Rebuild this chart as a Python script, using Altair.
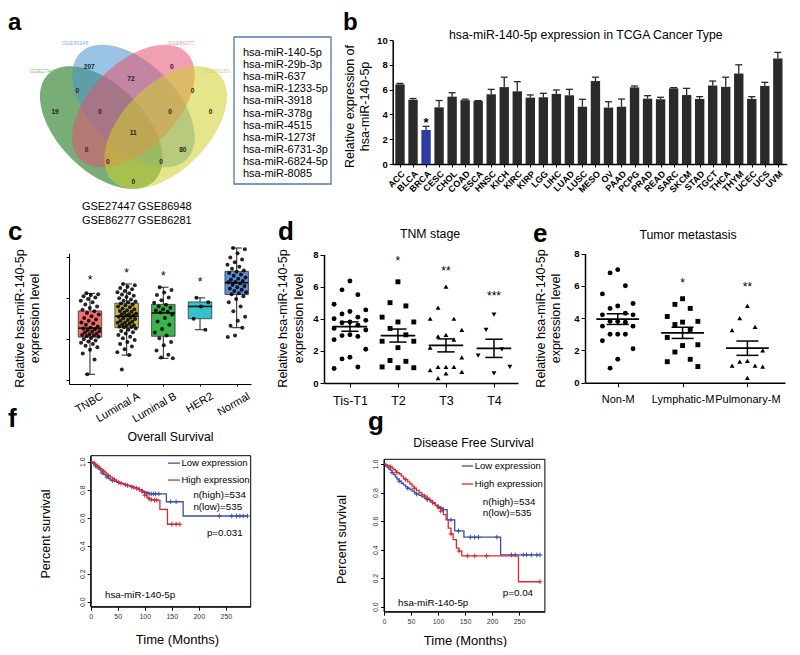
import json
import altair as alt
import pandas as pd

W, H = 784, 639
FONT = "Liberation Sans"

# ======================= DATA =======================
# a  Venn diagram (diagram units 0-1)
venn_sets = ["GSE27447", "GSE86948", "GSE86277", "GSE86281"]
venn_u = [0.35, 0.50, 0.50, 0.65]
venn_v = [0.47, 0.57, 0.57, 0.47]
venn_a = [0.35, 0.35, 0.35, 0.35]
venn_b = [0.20, 0.20, 0.20, 0.20]
venn_rot = [45, 45, 135, 135]
venn_label_u = [0.081, 0.228, 0.723, 0.886]
venn_label_v = [0.733, 0.863, 0.863, 0.733]
venn_counts = [207, 72, 0, 0, 0, 19, 0, 11, 0, 0, 0, 80, 0, 0, 0]
venn_count_u = [0.294, 0.488, 0.678, 0.239, 0.775, 0.135, 0.344, 0.499, 0.670, 0.859, 0.282, 0.729, 0.380, 0.628, 0.499]
venn_count_v = [0.753, 0.696, 0.753, 0.641, 0.641, 0.544, 0.544, 0.443, 0.544, 0.544, 0.366, 0.366, 0.308, 0.308, 0.215]
common_mirs = ["hsa-miR-140-5p", "hsa-miR-29b-3p", "hsa-miR-637", "hsa-miR-1233-5p", "hsa-miR-3918",
               "hsa-miR-378g", "hsa-miR-4515", "hsa-miR-1273f", "hsa-miR-6731-3p", "hsa-miR-6824-5p",
               "hsa-miR-8085"]

# b  TCGA bar chart
tcga_types = ["ACC", "BLCA", "BRCA", "CESC", "CHOL", "COAD", "ESCA", "HNSC", "KICH", "KIRC", "KIRP", "LGG",
              "LIHC", "LUAD", "LUSC", "MESO", "OV", "PAAD", "PCPG", "PRAD", "READ", "SARC", "SKCM", "STAD",
              "TGCT", "THCA", "THYM", "UCEC", "UCS", "UVM"]
tcga_mean = [6.42, 5.18, 2.74, 4.57, 5.43, 5.15, 5.08, 5.62, 6.20, 5.86, 5.35, 5.38, 5.65, 5.54, 4.62,
             6.69, 4.55, 4.62, 6.18, 5.27, 5.22, 6.10, 5.56, 5.24, 6.33, 6.22, 7.30, 5.25, 6.29, 8.50]
tcga_sem = [0.08, 0.10, 0.30, 0.55, 0.32, 0.08, 0.03, 0.40, 0.80, 0.78, 0.22, 0.32, 0.32, 0.48, 0.60,
            0.31, 0.47, 0.62, 0.11, 0.24, 0.16, 0.06, 0.54, 0.19, 0.36, 0.78, 0.70, 0.18, 0.30, 0.50]

# c  subtype box plots (relative units)
subtypes = ["TNBC", "Luminal A", "Luminal B", "HER2", "Normal"]
box_lo = [0.14, 0.61, 0.53, 1.23, 1.28]
box_q1 = [1.05, 1.28, 1.07, 1.50, 2.09]
box_med = [1.27, 1.56, 1.64, 1.80, 2.38]
box_q3 = [1.69, 1.88, 1.85, 1.91, 2.66]
box_hi = [2.12, 2.35, 2.27, 2.01, 3.23]
subtype_star_y = [2.51, 2.69, 2.63, 2.46]
pts_tnbc = [2.12, 2.10, 2.08, 2.05, 2.02, 1.98, 1.94, 1.90, 1.85, 1.80, 1.76, 1.72, 1.68, 1.64, 1.60, 1.56,
            1.52, 1.48, 1.45, 1.41, 1.38, 1.35, 1.31, 1.28, 1.26, 1.24, 1.22, 1.20, 1.18, 1.16, 1.14, 1.12,
            1.10, 1.09, 1.07, 1.06, 1.03, 1.00, 0.97, 0.94, 0.91, 0.88, 0.84, 0.80, 0.74, 0.65, 0.50, 0.14]
pts_luma = [2.35, 2.32, 2.28, 2.25, 2.22, 2.18, 2.15, 2.12, 2.09, 2.06, 2.03, 2.00, 1.97, 1.94, 1.92, 1.90,
            1.87, 1.85, 1.83, 1.80, 1.78, 1.75, 1.73, 1.71, 1.69, 1.67, 1.65, 1.63, 1.61, 1.60, 1.58, 1.57,
            1.55, 1.53, 1.51, 1.49, 1.47, 1.45, 1.43, 1.41, 1.40, 1.38, 1.36, 1.34, 1.33, 1.31, 1.30, 1.29,
            1.26, 1.23, 1.20, 1.17, 1.14, 1.10, 1.06, 1.02, 0.98, 0.93, 0.88, 0.82, 0.75, 0.68, 0.61, 0.26]
pts_lumb = [2.27, 2.20, 2.14, 2.08, 2.02, 1.95, 1.89, 1.84, 1.80, 1.77, 1.73, 1.70, 1.67, 1.65, 1.60, 1.52,
            1.43, 1.35, 1.25, 1.16, 1.09, 1.02, 0.93, 0.85, 0.72, 0.62, 0.55, 0.53]
pts_her2 = [2.01, 1.90, 1.80, 1.50, 1.23]
pts_normal = [3.23, 3.20, 3.10, 3.00, 2.95, 2.88, 2.82, 2.77, 2.72, 2.68, 2.65, 2.62, 2.58, 2.55, 2.51, 2.48,
              2.45, 2.42, 2.40, 2.39, 2.36, 2.33, 2.30, 2.27, 2.24, 2.21, 2.18, 2.15, 2.12, 2.10, 2.05, 1.98,
              1.90, 1.80, 1.68, 1.55, 1.45, 1.33, 1.28, 1.09, 1.05]

# d  TNM stage
tnm_groups = ["Tis-T1", "T2", "T3", "T4"]
tnm_tis_t1 = [6.35, 5.8, 5.5, 4.9, 4.55, 4.45, 4.3, 4.1, 4.0, 3.9, 3.8, 3.75, 3.6, 3.4, 3.3, 3.0, 2.95, 2.9,
              2.7, 2.1, 1.6, 1.5, 1.0, 0.9]
tnm_t2 = [6.3, 5.0, 4.8, 4.1, 3.8, 3.8, 3.4, 3.0, 2.6, 2.6, 2.2, 1.4, 1.35, 1.0, 0.95, 0.95]
tnm_t3 = [6.0, 4.7, 4.0, 4.0, 3.3, 3.0, 2.9, 2.7, 2.2, 1.6, 1.0, 1.0, 1.0, 0.8, 0.7, 0.6, 0.3]
tnm_t4 = [4.25, 3.3, 2.1, 1.7, 1.0, 0.6]
tnm_stars = ["*", "**", "***"]
tnm_star_idx = [1, 2, 3]
tnm_star_y = [7.78, 7.16, 5.60]

# e  metastasis
met_groups = ["Non-M", "Lymphatic-M", "Pulmonary-M"]
met_non = [7.0, 6.8, 6.0, 5.5, 4.9, 4.75, 4.6, 4.3, 4.2, 4.2, 3.8, 3.8, 3.75, 3.5, 3.5, 3.0, 3.0, 3.0, 2.6,
           2.1, 1.45, 0.9]
met_lymph = [5.2, 4.85, 4.6, 4.1, 3.8, 3.75, 3.6, 3.3, 2.8, 2.35, 2.3, 1.9, 1.45, 1.3, 1.0]
met_pulm = [4.75, 4.0, 3.45, 3.25, 2.0, 1.35, 1.3, 1.05, 1.05, 1.0, 0.3]
met_stars = ["*", "**"]
met_star_idx = [1, 2]
met_star_y = [6.38, 6.13]

# f  overall survival (months, survival)
os_low_t = [0, 3, 6, 9, 12, 15, 18, 21, 24, 27, 30, 33, 36, 40, 44, 48, 52, 56, 60, 64, 68, 72, 76, 80, 85,
            90, 95, 100, 104, 108, 112, 116, 120, 126, 140, 148, 158, 171, 238, 261, 270, 276, 282, 290]
os_low_s = [1.0, 0.99, 0.98, 0.97, 0.955, 0.945, 0.935, 0.92, 0.91, 0.90, 0.89, 0.88, 0.87, 0.865, 0.86,
            0.855, 0.85, 0.845, 0.84, 0.835, 0.83, 0.825, 0.82, 0.815, 0.81, 0.80, 0.79, 0.78, 0.775, 0.772,
            0.77, 0.77, 0.77, 0.77, 0.714, 0.714, 0.714, 0.612, 0.612, 0.612, 0.612, 0.612, 0.612, 0.612]
os_low_cens = [9, 21, 30, 40, 52, 64, 76, 85, 95, 104, 108, 112, 116, 120, 126, 148, 158, 238, 261, 270, 276,
               282, 290]
os_high_t = [0, 3, 6, 9, 12, 15, 18, 21, 24, 27, 30, 33, 36, 40, 44, 48, 52, 56, 60, 64, 68, 72, 76, 80, 85,
             90, 95, 100, 104, 108, 112, 118, 122, 128, 142, 150, 158, 165]
os_high_s = [1.0, 0.995, 0.99, 0.98, 0.97, 0.96, 0.95, 0.94, 0.93, 0.92, 0.91, 0.90, 0.89, 0.88, 0.87, 0.86,
             0.85, 0.845, 0.84, 0.835, 0.83, 0.825, 0.82, 0.815, 0.81, 0.80, 0.78, 0.76, 0.745, 0.735, 0.728,
             0.725, 0.725, 0.66, 0.553, 0.553, 0.553, 0.553]
os_high_cens = [6, 15, 24, 33, 44, 56, 68, 80, 90, 100, 108, 112, 118, 122, 150, 158, 165]

# g  disease free survival
dfs_low_t = [0, 3, 6, 9, 12, 15, 18, 21, 24, 28, 32, 36, 40, 44, 48, 52, 56, 60, 65, 70, 75, 80, 85, 90, 95,
             100, 105, 110, 117, 124, 131, 138, 148, 160, 168, 175, 209, 216, 236, 243, 258, 264, 273, 283, 289]
dfs_low_s = [1.0, 0.985, 0.975, 0.965, 0.955, 0.94, 0.925, 0.91, 0.895, 0.88, 0.865, 0.854, 0.84, 0.83, 0.82,
             0.81, 0.80, 0.79, 0.78, 0.77, 0.76, 0.75, 0.74, 0.725, 0.71, 0.70, 0.69, 0.68, 0.608, 0.608,
             0.531, 0.531, 0.487, 0.487, 0.487, 0.487, 0.487, 0.363, 0.363, 0.363, 0.363, 0.363, 0.363,
             0.363, 0.363]
dfs_low_cens = [15, 28, 44, 60, 80, 100, 105, 110, 124, 138, 160, 168, 175, 209, 236, 243, 258, 264, 273, 283,
                289]
dfs_high_t = [0, 3, 6, 9, 12, 15, 18, 21, 24, 28, 32, 36, 40, 44, 48, 52, 56, 60, 65, 70, 75, 80, 85, 90, 95,
              100, 105, 110, 115, 119, 124, 128, 134, 139, 144, 155, 168, 190, 220, 249, 289]
dfs_high_s = [1.0, 0.995, 0.99, 0.985, 0.98, 0.97, 0.96, 0.95, 0.94, 0.93, 0.915, 0.90, 0.89, 0.875, 0.86,
              0.845, 0.83, 0.815, 0.80, 0.785, 0.775, 0.76, 0.745, 0.73, 0.71, 0.69, 0.67, 0.645, 0.61, 0.55,
              0.51, 0.47, 0.41, 0.39, 0.356, 0.356, 0.356, 0.356, 0.356, 0.175, 0.175]
dfs_high_cens = [12, 24, 40, 56, 75, 90, 105, 124, 139, 155, 168, 190, 289]

# ======================= STYLE =======================
venn_colors = ["#0A6A0A", "#4994CE", "#E4526F", "#D0D02A"]
venn_opacity = 0.55
venn_label_colors = ["#7DBF7D", "#8DB8E0", "#EFA0A6", "#D4D47A"]
box_colors = ["#F2716D", "#CDB64B", "#3DB34B", "#33C3CC", "#5F8FD4"]
LOW_C, HIGH_C = "#3C4FA8", "#E0282C"
BAR_C, BAR_HI = "#2A2A2A", "#2E3BA3"

AX = dict(grid=False, domainColor="black", tickColor="black", labelColor="black", titleColor="black",
          labelFont=FONT, titleFont=FONT, titleFontWeight="normal", labelFlush=False, labelOverlap=False)


def S(domain, rng):
    return alt.Scale(domain=domain, range=rng, nice=False, zero=False)


def bottom_axis(ypix, **kw):
    d = dict(AX)
    d.update(orient="bottom", offset=ypix - H)
    d.update(kw)
    return alt.Axis(**d)


def left_axis(xpix, **kw):
    d = dict(AX)
    d.update(orient="left", offset=-xpix)
    d.update(kw)
    return alt.Axis(**d)


ONE = alt.Data(values=[{"k": 0}])


def note(text, x, y, size=12.0, weight="normal", align="center", baseline="middle", color="black"):
    return alt.Chart(ONE).mark_text(text=text, fontSize=size, fontWeight=weight, align=align,
                                    baseline=baseline, color=color, font=FONT).encode(
        x=alt.value(x), y=alt.value(y))


layers = []

# ======================= PANEL a =======================
vx, vy = S([0, 1], [18, 233]), S([0, 1], [220.6, 5.6])
PX = 215.0
ell = pd.DataFrame({"u": venn_u, "v": venn_v, "rot": venn_rot})
ell["shape"] = ["M-1,0A1,{r:.4f},0,1,0,1,0A1,{r:.4f},0,1,0,-1,0Z".format(r=b / a) for a, b in zip(venn_a, venn_b)]
ell["size"] = [(2 * a * PX) ** 2 for a in venn_a]
ell["col"] = venn_colors
layers.append(alt.Chart(ell).mark_point(filled=True, opacity=venn_opacity, strokeWidth=0).encode(
    x=alt.X("u:Q", scale=vx, axis=None), y=alt.Y("v:Q", scale=vy, axis=None),
    shape=alt.Shape("shape:N", scale=None), size=alt.Size("size:Q", scale=None),
    angle=alt.Angle("rot:Q", scale=None), color=alt.Color("col:N", scale=None)))

cnt = pd.DataFrame({"u": venn_count_u, "v": venn_count_v, "n": [str(c) for c in venn_counts]})
layers.append(alt.Chart(cnt).mark_text(fontSize=6.5, fontWeight="bold", font=FONT, color="#222").encode(
    x=alt.X("u:Q", scale=vx, axis=None), y=alt.Y("v:Q", scale=vy, axis=None), text="n:N"))

sl = pd.DataFrame({"u": venn_label_u, "v": venn_label_v, "t": venn_sets, "col": venn_label_colors})
layers.append(alt.Chart(sl).mark_text(fontSize=5.5, font=FONT).encode(
    x=alt.X("u:Q", scale=vx, axis=None), y=alt.Y("v:Q", scale=vy, axis=None), text="t:N",
    color=alt.Color("col:N", scale=None)))

layers.append(alt.Chart(ONE).mark_rect(fillOpacity=0, stroke="#5577AA", strokeWidth=1.3).encode(
    x=alt.value(226), x2=alt.value(323), y=alt.value(29), y2=alt.value(176)))
mirs = pd.DataFrame({"m": common_mirs, "i": list(range(len(common_mirs)))})
layers.append(alt.Chart(mirs).mark_text(fontSize=11, font=FONT, align="left", color="black").encode(
    x=alt.value(235), y=alt.Y("i:Q", scale=S([0, 10], [45, 166]), axis=None), text="m:N"))

for t, x, y in [("GSE27447", 100.8, 199), ("GSE86948", 156.7, 199), ("GSE86277", 100.8, 213),
                ("GSE86281", 156.7, 213)]:
    layers.append(note(t, x, y, 11))

# ======================= PANEL b =======================
bxs, bys = S([-0.56, 29.68], [384.7, 778.7]), S([0, 10], [156, 32])
bdf = pd.DataFrame({"cat": tcga_types, "val": tcga_mean, "err": tcga_sem, "i": list(range(len(tcga_types)))})
b_xaxis = bottom_axis(156, values=list(range(len(tcga_types))), labelExpr=json.dumps(tcga_types) + "[datum.value]",
                      labelAngle=-45, labelAlign="right", labelBaseline="top", labelFontSize=9,
                      labelFontWeight="bold", tickSize=3, labelPadding=2, domainWidth=1.5, title=None)
b_yaxis = left_axis(384.7, values=[0, 2, 4, 6, 8, 10], labelFontSize=9.5, labelFontWeight="bold", tickSize=3.5,
                    labelPadding=2, domainWidth=1.5, title=["Relative expression of", "hsa-miR-140-5p"],
                    titleFontSize=12.5, titleLineHeight=15, titleX=-36.7, titleY=98)
bbase = alt.Chart(bdf).transform_calculate(x0="datum.i - 0.36", x1="datum.i + 0.36", c0="datum.i - 0.27",
                                           c1="datum.i + 0.27", top="datum.val + datum.err")
layers.append(bbase.mark_rule(strokeWidth=1.3, color=BAR_C).encode(
    x=alt.X("i:Q", scale=bxs, axis=None), y=alt.Y("val:Q", scale=bys, axis=None), y2="top:Q"))
layers.append(bbase.mark_rule(strokeWidth=1.3, color=BAR_C).encode(
    x=alt.X("c0:Q", scale=bxs, axis=None), x2="c1:Q", y=alt.Y("top:Q", scale=bys, axis=None)))
layers.append(bbase.mark_bar().encode(
    x=alt.X("x0:Q", scale=bxs, axis=b_xaxis), x2="x1:Q",
    y=alt.Y("val:Q", scale=bys, axis=b_yaxis), y2=alt.Y2Datum(0),
    color=alt.condition(alt.datum.cat == "BRCA", alt.value(BAR_HI), alt.value(BAR_C))))
layers.append(bbase.transform_filter(alt.datum.cat == "BRCA").mark_text(
    text="*", fontSize=13, fontWeight="bold", baseline="middle", dy=-3, font=FONT, color="black").encode(
    x=alt.X("i:Q", scale=bxs, axis=None), y=alt.Y("top:Q", scale=bys, axis=None)))
layers.append(note("hsa-miR-140-5p expression in TCGA Cancer Type", 577.8, 27, 12.3))

# ======================= PANEL c =======================
cxs, cys = S([-0.572, 4.39], [61, 243]), S([-0.097, 3.1], [376, 245.3])
c_xaxis = bottom_axis(376, values=list(range(5)), labelExpr=json.dumps(subtypes) + "[datum.value]",
                      labelAngle=-30, labelAlign="right", labelBaseline="top", labelOffset=9, labelPadding=4,
                      labelFontSize=11, tickSize=2, domainWidth=1, title=None)
c_yaxis = left_axis(61, values=[0, 1, 2, 3], labels=False, tickSize=3, domainWidth=1,
                    title=["Relative hsa-miR-140-5p", "expression level"], titleFontSize=12.5,
                    titleLineHeight=14.5, titleX=-42.3, titleY=310)
cb = pd.DataFrame({"i": list(range(5)), "sub": subtypes, "lo": box_lo, "q1": box_q1, "med": box_med,
                   "q3": box_q3, "hi": box_hi})
cbase = alt.Chart(cb).transform_calculate(b0="datum.i - 0.32", b1="datum.i + 0.32", w0="datum.i - 0.14",
                                          w1="datum.i + 0.14")
for lo, hi in [("lo", "q1"), ("q3", "hi")]:
    layers.append(cbase.mark_rule(color="#222", strokeWidth=1).encode(
        x=alt.X("i:Q", scale=cxs, axis=None), y=alt.Y(lo + ":Q", scale=cys, axis=None), y2=hi + ":Q"))
for f in ["lo", "hi"]:
    layers.append(cbase.mark_rule(color="#222", strokeWidth=1).encode(
        x=alt.X("w0:Q", scale=cxs, axis=None), x2="w1:Q", y=alt.Y(f + ":Q", scale=cys, axis=None)))
layers.append(cbase.mark_rect(stroke="#333", strokeWidth=0.8).encode(
    x=alt.X("b0:Q", scale=cxs, axis=c_xaxis), x2="b1:Q",
    y=alt.Y("q1:Q", scale=cys, axis=c_yaxis), y2="q3:Q",
    color=alt.Color("sub:N", scale=alt.Scale(domain=subtypes, range=box_colors), legend=None)))
layers.append(cbase.mark_rule(color="#111", strokeWidth=1.6).encode(
    x=alt.X("b0:Q", scale=cxs, axis=None), x2="b1:Q", y=alt.Y("med:Q", scale=cys, axis=None)))
rows = []
for gi, vals in enumerate([pts_tnbc, pts_luma, pts_lumb, pts_her2, pts_normal]):
    for k, v in enumerate(vals):
        rows.append({"gi": gi, "k": k, "val": v})
cpts = pd.DataFrame(rows)
layers.append(alt.Chart(cpts).transform_calculate(
    xj="datum.gi + ((datum.k * 0.618034 + 0.31) % 1 - 0.5) * 0.52").mark_circle(
    size=16, color="black", opacity=0.85).encode(
    x=alt.X("xj:Q", scale=cxs, axis=None), y=alt.Y("val:Q", scale=cys, axis=None)))
cst = pd.DataFrame({"gi": [0, 1, 2, 3], "y": subtype_star_y})
layers.append(alt.Chart(cst).mark_text(text="*", fontSize=12, baseline="middle", dy=3, font=FONT,
                                       color="black").encode(
    x=alt.X("gi:Q", scale=cxs, axis=None), y=alt.Y("y:Q", scale=cys, axis=None)))


# ======================= PANELS d / e =======================
def scatter_panel(groups, lists, shapes, xs, ys, xaxis, yaxis, step, half, cap, stars, star_idx, star_y):
    rows = []
    for gi, vals in enumerate(lists):
        for k, v in enumerate(vals):
            rows.append({"gi": gi, "g": groups[gi], "k": k, "val": v})
    df = pd.DataFrame(rows)
    out = []
    out.append(alt.Chart(df).transform_calculate(
        xj="datum.gi + [0, -1, 1, -2, 2][datum.k % 5] * " + str(step)).mark_point(
        filled=True, size=24, color="black", opacity=1).encode(
        x=alt.X("xj:Q", scale=xs, axis=xaxis), y=alt.Y("val:Q", scale=ys, axis=yaxis),
        shape=alt.Shape("g:N", scale=alt.Scale(domain=groups, range=shapes), legend=None)))
    agg = alt.Chart(df).transform_aggregate(m="mean(val)", se="stderr(val)", groupby=["gi"]).transform_calculate(
        m0="datum.gi - " + str(half), m1="datum.gi + " + str(half), s0="datum.gi - " + str(cap),
        s1="datum.gi + " + str(cap), lo="datum.m - datum.se", hi="datum.m + datum.se")
    out.append(agg.mark_rule(color="black", strokeWidth=1.8).encode(
        x=alt.X("m0:Q", scale=xs, axis=None), x2="m1:Q", y=alt.Y("m:Q", scale=ys, axis=None)))
    out.append(agg.mark_rule(color="black", strokeWidth=1.5).encode(
        x=alt.X("gi:Q", scale=xs, axis=None), y=alt.Y("lo:Q", scale=ys, axis=None), y2="hi:Q"))
    for f in ["lo", "hi"]:
        out.append(agg.mark_rule(color="black", strokeWidth=1.5).encode(
            x=alt.X("s0:Q", scale=xs, axis=None), x2="s1:Q", y=alt.Y(f + ":Q", scale=ys, axis=None)))
    sdf = pd.DataFrame({"gi": star_idx, "y": star_y, "s": stars})
    out.append(alt.Chart(sdf).mark_text(fontSize=12, baseline="middle", dy=3, font=FONT, color="black").encode(
        x=alt.X("gi:Q", scale=xs, axis=None), y=alt.Y("y:Q", scale=ys, axis=None), text="s:N"))
    return out


dxs, dys = S([-0.54, 3.5], [316, 510]), S([0, 8], [375, 246.5])
d_xaxis = bottom_axis(375, values=[0, 1, 2, 3], labelExpr=json.dumps(tnm_groups) + "[datum.value]",
                      labelFontSize=12.5, tickSize=4, labelPadding=7, domainWidth=1.5, title=None)
d_yaxis = left_axis(316, values=[0, 2, 4, 6, 8], labelFontSize=9.5, labelFontWeight="bold", tickSize=4,
                    labelPadding=2, domainWidth=1.5, title=["Relative hsa-miR-140-5p", "expression level"],
                    titleFontSize=12.5, titleLineHeight=15.5, titleX=-34.5, titleY=310)
layers += scatter_panel(tnm_groups, [tnm_tis_t1, tnm_t2, tnm_t3, tnm_t4],
                        ["circle", "square", "triangle-up", "triangle-down"], dxs, dys, d_xaxis, d_yaxis,
                        0.165, 0.36, 0.18, tnm_stars, tnm_star_idx, tnm_star_y)
layers.append(note("TNM stage", 422, 226, 12.3))

exs, eys = S([-0.505, 2.58], [577, 777]), S([0, 8], [374.7, 245.5])
e_xaxis = bottom_axis(374.7, values=[0, 1, 2], labelExpr=json.dumps(met_groups) + "[datum.value]",
                      labelFontSize=11, tickSize=4, labelPadding=7, domainWidth=1.5, title=None)
e_yaxis = left_axis(577, values=[0, 2, 4, 6, 8], labelFontSize=9.5, labelFontWeight="bold", tickSize=4,
                    labelPadding=2, domainWidth=1.5, title=["Relative hsa-miR-140-5p", "expression level"],
                    titleFontSize=12.5, titleLineHeight=15.5, titleX=-38, titleY=310)
layers += scatter_panel(met_groups, [met_non, met_lymph, met_pulm], ["circle", "square", "triangle-up"],
                        exs, eys, e_xaxis, e_yaxis, 0.118, 0.33, 0.17, met_stars, met_star_idx, met_star_y)
layers.append(note("Tumor metastasis", 680, 227, 12.3))

# ======================= PANELS f / g =======================
CROSS = "M0,-1L0,1M-1,0L1,0"


def km_panel(xs, ys, xaxis, yaxis, xd, yd, curves, leg, extra):
    out = []
    out.append(alt.Chart(ONE).mark_rect(fillOpacity=0, stroke="black", strokeWidth=1).encode(
        x=alt.XDatum(xd[0], scale=xs, axis=xaxis), x2=alt.X2Datum(xd[1]),
        y=alt.YDatum(yd[0], scale=ys, axis=yaxis), y2=alt.Y2Datum(yd[1])))
    for t, s, cens, col in curves:
        df = pd.DataFrame({"t": t, "s": s, "c": [1 if v in cens else 0 for v in t]})
        out.append(alt.Chart(df).mark_line(interpolate="step-after", strokeWidth=1.3, color=col).encode(
            x=alt.X("t:Q", scale=xs, axis=None), y=alt.Y("s:Q", scale=ys, axis=None)))
        out.append(alt.Chart(df).transform_filter(alt.datum.c == 1).mark_point(
            shape=CROSS, size=22, filled=False, strokeWidth=1, color=col, opacity=1).encode(
            x=alt.X("t:Q", scale=xs, axis=None), y=alt.Y("s:Q", scale=ys, axis=None)))
    for (x0, x1, y, col, text, tx) in leg:
        out.append(alt.Chart(ONE).mark_rule(color=col, strokeWidth=1.3).encode(
            x=alt.XDatum(x0, scale=xs, axis=None), x2=alt.X2Datum(x1), y=alt.YDatum(y, scale=ys, axis=None)))
        out.append(alt.Chart(ONE).mark_text(text=text, fontSize=9.5, align="left", font=FONT,
                                            color="black").encode(
            x=alt.XDatum(tx, scale=xs, axis=None), y=alt.YDatum(y, scale=ys, axis=None)))
    for (text, tx, ty) in extra:
        out.append(alt.Chart(ONE).mark_text(text=text, fontSize=9.8, align="left", font=FONT,
                                            color="black").encode(
            x=alt.XDatum(tx, scale=xs, axis=None), y=alt.YDatum(ty, scale=ys, axis=None)))
    return out


KM_X = dict(values=[0, 50, 100, 150, 200, 250], labelFontSize=7, labelColor="#333", tickSize=3.5,
            labelPadding=2, domainWidth=1, title="Time (Months)", titleFontSize=13, titleBaseline="middle")
KM_Y = dict(values=[0, 0.2, 0.4, 0.6, 0.8, 1.0], format=".1f", labelAngle=-90, labelAlign="center",
            labelBaseline="bottom", labelFontSize=7, labelColor="#333", tickSize=3.5, labelPadding=2,
            domainWidth=1, title="Percent survival", titleFontSize=12.5)

fxs, fys = S([0, 296], [82.7, 242.7]), S([-0.036, 1.043], [598.7, 447.7])
f_x = bottom_axis(598.7, titleX=169, titleY=32.3, **KM_X)
f_y = left_axis(82.7, titleX=-38.2, titleY=525.5, **KM_Y)
layers += km_panel(fxs, fys, f_x, f_y, [0, 296], [-0.036, 1.043],
                   [(os_low_t, os_low_s, os_low_cens, LOW_C), (os_high_t, os_high_s, os_high_cens, HIGH_C)],
                   [(143, 165, 0.99, LOW_C, "Low expression", 168), (143, 165, 0.869, HIGH_C, "High expression", 168)],
                   [("n(high)=534", 190, 0.762), ("n(low)=535", 190, 0.676), ("p=0.031", 215, 0.49),
                    ("hsa-miR-140-5p", 26.5, 0.048)])
layers.append(note("Overall Survival", 162.5, 429, 12.3))

gxs, gys = S([0, 298], [376, 536.9]), S([-0.035, 1.033], [603.7, 451.3])
g_x = bottom_axis(603.7, titleX=457, titleY=28.3, **KM_X)
g_y = left_axis(376, titleX=-36, titleY=531, **KM_Y)
layers += km_panel(gxs, gys, g_x, g_y, [0, 298], [-0.035, 1.033],
                   [(dfs_low_t, dfs_low_s, dfs_low_cens, LOW_C), (dfs_high_t, dfs_high_s, dfs_high_cens, HIGH_C)],
                   [(144, 165, 0.986, LOW_C, "Low expression", 168), (144, 165, 0.86, HIGH_C, "High expression", 168)],
                   [("n(high)=534", 183, 0.734), ("n(low)=535", 183, 0.657), ("p=0.04", 220, 0.096),
                    ("hsa-miR-140-5p", 26, 0.026)])
layers.append(note("Disease Free Survival", 465.5, 435, 12.3))

# ======================= panel letters =======================
for t, x, y, fs in [("a", 0, 22, 24), ("b", 335, 22, 24), ("c", 0, 232, 26), ("d", 270, 232, 26),
                    ("e", 525, 234, 26), ("f", 0, 419, 26), ("g", 360, 422, 26)]:
    layers.append(note(t, x, y, fs, "bold", align="left", baseline="alphabetic"))

chart = alt.layer(*layers).resolve_scale(
    x="independent", y="independent", color="independent", shape="independent"
).properties(width=W, height=H, padding=0, autosize=alt.AutoSizeParams(type="none")
).configure_view(stroke=None)

chart.save("out.html", embed_options={"renderer": "svg", "actions": False})
